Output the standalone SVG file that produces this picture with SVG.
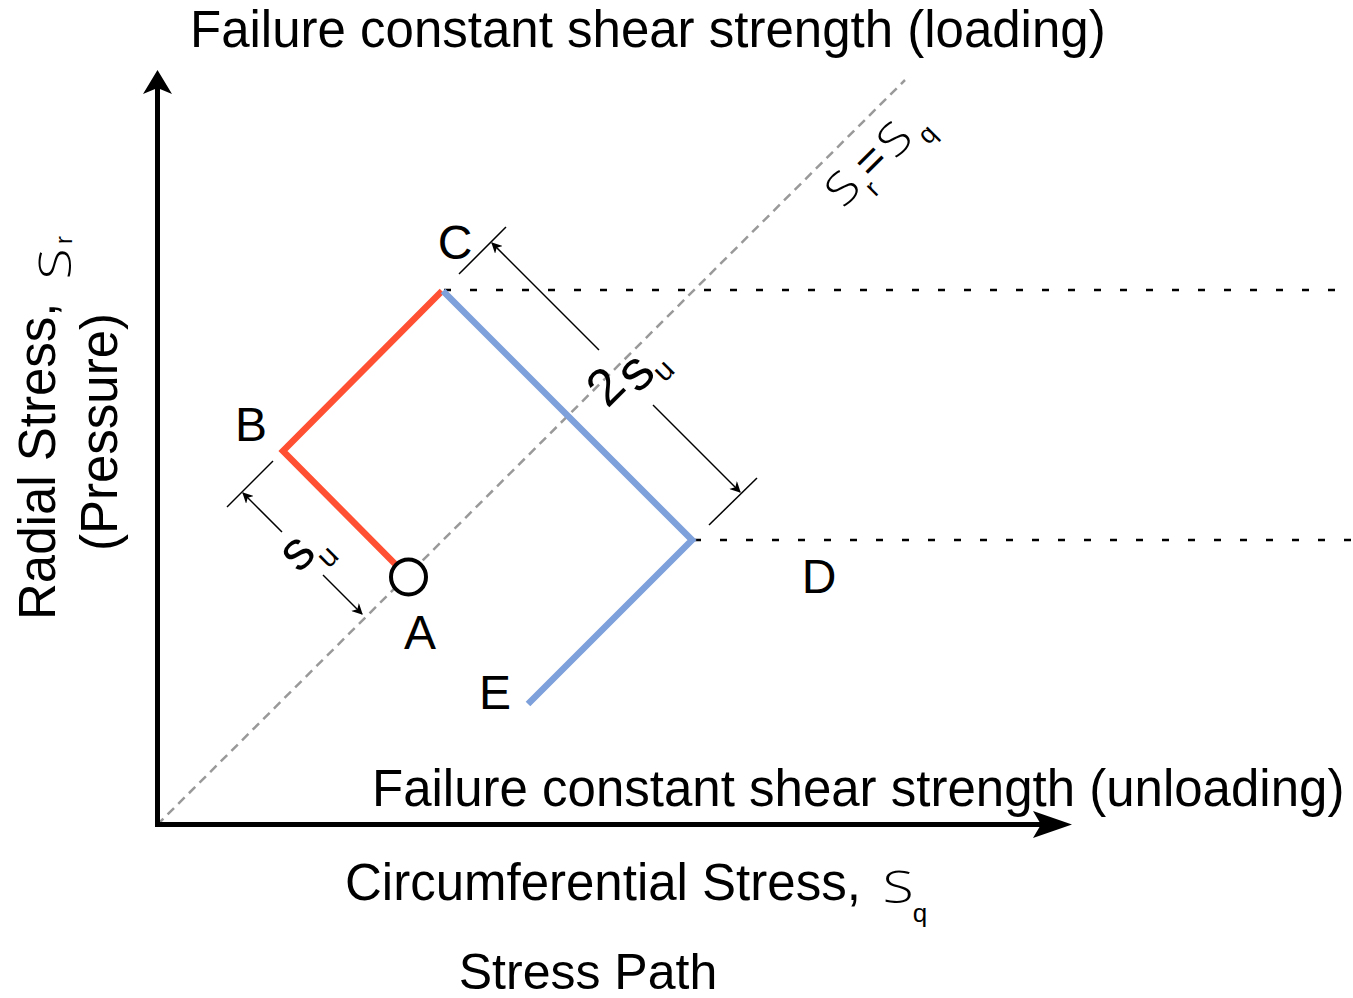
<svg xmlns="http://www.w3.org/2000/svg" width="1353" height="998" viewBox="0 0 1353 998">
<style>
.t{font-family:"Liberation Sans",Arial,sans-serif;fill:#000}
.sg{font-family:"Open Sans","DejaVu Sans",sans-serif;font-weight:300;fill:#000}
.dim{stroke:#000;stroke-width:1.5;fill:none}
</style>
<defs>
<marker id="ah" viewBox="0 0 10 10" refX="9" refY="5" markerWidth="11" markerHeight="11" markerUnits="userSpaceOnUse" orient="auto">
<path d="M0,0 L10,5 L0,10 L3,5 Z" fill="#000"/>
</marker>
</defs>
<rect width="1353" height="998" fill="#fff"/>
<g id="guides">
<line x1="157" y1="825" x2="905" y2="80" stroke="#999" stroke-width="2.5" stroke-dasharray="9,6"/>
<line x1="444" y1="290" x2="1353" y2="290" stroke="#000" stroke-width="2.5" stroke-dasharray="7,19"/>
<line x1="694" y1="540" x2="1353" y2="540" stroke="#000" stroke-width="2.5" stroke-dasharray="7,19"/>
</g>
<g id="axes">
<line x1="157.5" y1="827" x2="157.5" y2="88" stroke="#000" stroke-width="5"/>
<path d="M157.5,70 L172,94 L157.5,88 L143,94 Z" fill="#000"/>
<line x1="155" y1="824.5" x2="1050" y2="824.5" stroke="#000" stroke-width="5"/>
<path d="M1072,824.5 L1033,838 L1041,824.5 L1033,811 Z" fill="#000"/>
</g>
<g id="connectors">
<polyline points="408,577 283,451 442,291" fill="none" stroke="#ff5033" stroke-width="6.5" stroke-linejoin="miter"/>
<polyline points="443,291 692,540 528,704" fill="none" stroke="#7ea1db" stroke-width="6.5" stroke-linejoin="miter"/>
<line class="dim" x1="459" y1="274" x2="506" y2="227"/>
<line class="dim" x1="709" y1="525" x2="757" y2="478"/>
<line class="dim" x1="599" y1="350" x2="492" y2="243" marker-end="url(#ah)"/>
<line class="dim" x1="653" y1="405" x2="740" y2="492" marker-end="url(#ah)"/>
<line class="dim" x1="227" y1="507" x2="273" y2="461"/>
<line class="dim" x1="282" y1="532" x2="243" y2="493" marker-end="url(#ah)"/>
<line class="dim" x1="323" y1="575" x2="362" y2="614" marker-end="url(#ah)"/>
</g>
<g id="node-A">
<circle cx="408.5" cy="577" r="17.5" fill="#fff" stroke="#000" stroke-width="4"/>
<text class="t" x="420" y="649" font-size="48" text-anchor="middle">A</text>
</g>
<g id="node-B"><text class="t" x="251" y="441" font-size="48" text-anchor="middle">B</text></g>
<g id="node-C"><text class="t" x="455" y="259" font-size="48" text-anchor="middle">C</text></g>
<g id="node-D"><text class="t" x="819" y="593" font-size="48" text-anchor="middle">D</text></g>
<g id="node-E"><text class="t" x="495" y="709" font-size="48" text-anchor="middle">E</text></g>
<g id="titles">
<text class="t" x="190" y="47" font-size="51">Failure constant shear strength (loading)</text>
<text class="t" x="372" y="806" font-size="51">Failure constant shear strength (unloading)</text>
<text class="t" x="345" y="900" font-size="51">Circumferential Stress,</text>
<text class="sg" font-size="44" transform="translate(898,886) scale(1.3,1)" text-anchor="middle" dominant-baseline="central">S</text>
<text class="t" x="920" y="922" font-size="26" text-anchor="middle">q</text>
<text class="t" x="588" y="989" font-size="50" text-anchor="middle">Stress Path</text>
</g>
<g id="y-label">
<text class="t" font-size="51" transform="translate(55,620) rotate(-90)">Radial Stress,</text>
<text class="sg" font-size="44" transform="translate(54,264) rotate(-90) scale(1.3,1)" text-anchor="middle" dominant-baseline="central">S</text>
<text class="t" font-size="24" transform="translate(72,240) rotate(-90)" text-anchor="middle">r</text>
<text class="t" font-size="51" transform="translate(117,432) rotate(-90)" text-anchor="middle">(Pressure)</text>
</g>
<g id="diag-label">
<text class="sg" font-size="44" transform="translate(841,187) rotate(-45) scale(1.2,1)" text-anchor="middle" dominant-baseline="central">S</text>
<text class="t" font-size="26" transform="translate(872,188) rotate(-45)" text-anchor="middle" dominant-baseline="central">r</text>
<text class="t" font-size="46" transform="translate(870,160) rotate(-45)" text-anchor="middle" dominant-baseline="central">=</text>
<text class="sg" font-size="44" transform="translate(893,138) rotate(-45) scale(1.2,1)" text-anchor="middle" dominant-baseline="central">S</text>
<text class="t" font-size="26" transform="translate(927,134) rotate(-45)" text-anchor="middle" dominant-baseline="central">q</text>
</g>
<g id="dim-2su">
<text class="t" font-size="52" transform="translate(605,386) rotate(-45)" text-anchor="middle" dominant-baseline="central">2</text>
<text class="t" font-size="56" transform="translate(634,371) rotate(-45)" text-anchor="middle" dominant-baseline="central">s</text>
<text class="t" font-size="30" transform="translate(663,370) rotate(-45)" text-anchor="middle" dominant-baseline="central">u</text>
</g>
<g id="dim-su">
<text class="t" font-size="54" transform="translate(295,551) rotate(-45)" text-anchor="middle" dominant-baseline="central">s</text>
<text class="t" font-size="30" transform="translate(327,556) rotate(-45)" text-anchor="middle" dominant-baseline="central">u</text>
</g>
</svg>
